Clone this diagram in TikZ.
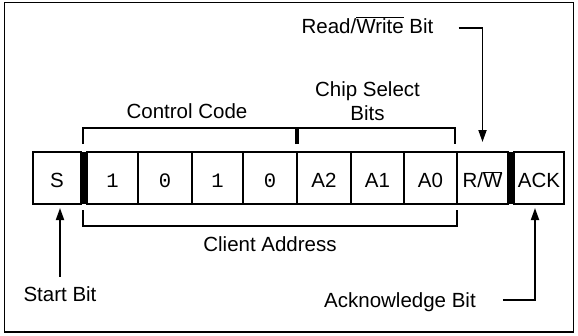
\documentclass[tikz,border=0pt]{standalone}
\usepackage{fontspec}
\setmainfont{Liberation Sans}
\newfontfamily\bitfont{Liberation Mono}
\usetikzlibrary{arrows.meta, calc}

\newcommand\ovl[1]{\ensuremath{\overline{\mbox{#1}}}}

\begin{document}
\begin{tikzpicture}[x=1pt, y=-1pt,
    cell/.style = {draw, line width=1.8pt, minimum height=52pt, inner sep=0pt,
      outer sep=0pt, text height=19pt, text depth=0.4pt},
    bar/.style = {fill=black, minimum width=6pt, minimum height=52pt,
      inner sep=0pt, outer sep=0pt},
    lbl/.style = {inner sep=0pt, anchor=base},
    bracket/.style = {line width=1.8pt},
    pointer/.style = {line width=1.8pt, -{Triangle[length=12pt, width=8pt]}}
  ]
  \fontsize{20.5}{23.5}\selectfont
  \useasboundingbox (0,0) rectangle (578,335);
  \draw[line width=1.8pt] (4.5,2.5) rectangle (573.5,332);

  % the register cells
  \node[cell, minimum width=48pt] (s) at (57,178) {S};
  \node[bar] (b1) at (84,178) {};
  \node[cell, minimum width=51pt] (d1) at (112.5,178) {\bitfont 1};
  \node[cell, minimum width=54pt] (d2) at (165,178) {\bitfont 0};
  \node[cell, minimum width=51pt] (d3) at (217.5,178) {\bitfont 1};
  \node[cell, minimum width=54pt] (d4) at (270,178) {\bitfont 0};
  \node[cell, minimum width=54pt] (a2) at (324,178) {A2};
  \node[cell, minimum width=53pt] (a1) at (377.5,178) {A1};
  \node[cell, minimum width=53pt] (a0) at (430.5,178) {A0};
  \node[cell, minimum width=51pt] (rw) at (482.5,178) {R/\ovl{W}};
  \node[bar] (b2) at (511,178) {};
  \node[cell, minimum width=50pt] (ack) at (539,178) {ACK};

  % brackets
  \draw[bracket] ($(b1.north)+(-1,-8)$) |- ($(a0.north east)+(-2,-24)$) -- ++(0,16);
  \draw[line width=4pt] (a2.north west) ++(0,-8) -- ++(0,-16);
  \draw[bracket] ($(b1.south)+(-1,6)$) -- ++(0,16) -| ($(a0.south east)+(0,6)$);

  % labels
  \node[lbl] (ctrl) at (187,118.3) {Control Code};
  \node[inner sep=0pt, align=center] (chip) at (367.5,101) {Chip Select\\Bits};
  \node[lbl] (addr) at (270,251) {Client Address};
  \node[lbl] (rwlbl) at (367.5,33.3) {Read/\ovl{Write} Bit};
  \node[lbl] (startlbl) at (60,301.7) {Start Bit};
  \node[lbl] (acklbl) at (400,307.7) {Acknowledge Bit};

  % pointers
  \draw[pointer] ($(rwlbl.base east)+(25,-5.3)$) -| ($(rw.north)+(0,-10)$);
  \draw[pointer] ($(startlbl.north)+(0,-10)$) -- ($(startlbl.north |- s.south)+(0,4)$);
  \draw[pointer] ($(acklbl.base east)+(27,-7.5)$) -| ($(ack.south)+(-4,4)$);
\end{tikzpicture}
\end{document}
